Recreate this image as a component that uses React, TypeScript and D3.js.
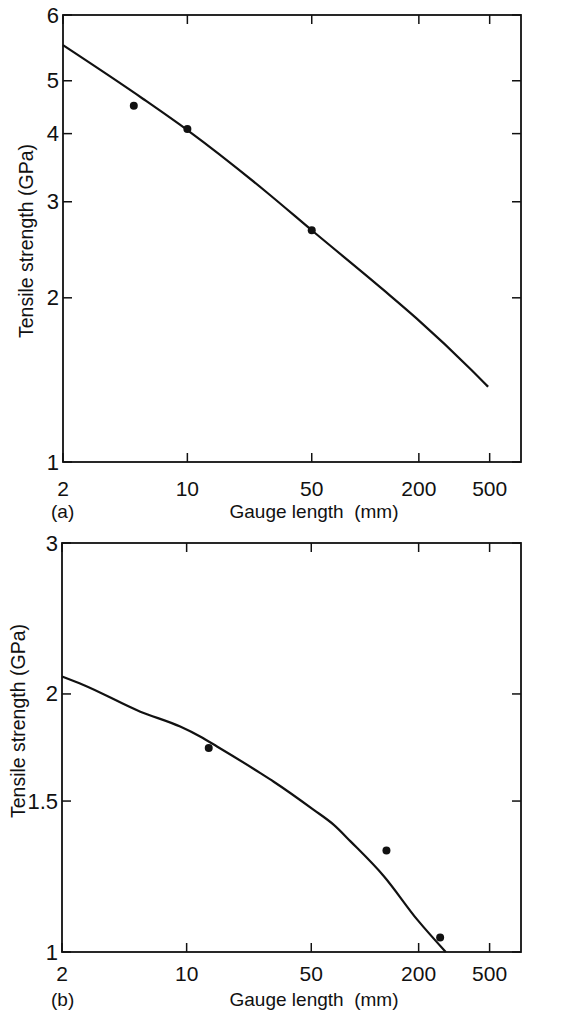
import * as d3 from "d3";

// x ticks shared by both panels
const xTicks = [2, 10, 50, 200, 500];
const xDomain = [2, 750];

// panel (a)
const yTickValuesA = [1, 2, 3, 4, 5, 6.6];
const yTickLabelsA = ["1", "2", "3", "4", "5", "6"];
const curveXA = [2, 5.65, 10, 28, 50, 126, 194, 395, 490];
const curveYA = [5.81, 4.63, 4.06, 3.12, 2.66, 2.07, 1.834, 1.475, 1.374];
const dotXA = [5, 10, 50];
const dotYA = [4.5, 4.08, 2.66];

// panel (b)
const yTickValuesB = [1, 1.5, 2, 3];
const yTickLabelsB = ["1", "1.5", "2", "3"];
const curveXB = [2, 2.64, 5.5, 9.2, 11.9, 14.8, 25.9, 30.8, 51.6, 66.9, 83, 128, 197, 284];
const curveYB = [2.096, 2.049, 1.907, 1.832, 1.784, 1.737, 1.617, 1.58, 1.465, 1.407, 1.346, 1.225, 1.09, 1.0];
const dotXB = [13.3, 132, 264];
const dotYB = [1.73, 1.313, 1.04];

const FONT = "'Liberation Sans', Arial, sans-serif";

type PanelProps = {
  left: number;
  right: number;
  top: number;
  bottom: number;
  yValues: number[];
  yLabels: string[];
  curveX: number[];
  curveY: number[];
  dotX: number[];
  dotY: number[];
  tag: string;
  yLabelX: number;
  yLabelY: number;
  xTickOffset: number;
  xLabelY: number;
};

const Panel = (p: PanelProps) => {
  const x = d3.scaleLog().domain(xDomain).range([p.left, p.right]);
  const y = d3
    .scaleLog()
    .domain([p.yValues[0], p.yValues[p.yValues.length - 1]])
    .range([p.bottom, p.top]);

  const pts = p.curveX.map((v, i) => [v, p.curveY[i]] as [number, number]);
  const line = d3
    .line<[number, number]>()
    .x((d) => x(d[0]))
    .y((d) => y(d[1]))
    .curve(d3.curveMonotoneX);

  const tl = 9;
  return (
    <g>
      <rect
        x={p.left}
        y={p.top}
        width={p.right - p.left}
        height={p.bottom - p.top}
        fill="none"
        stroke="#111"
        strokeWidth={1.8}
      />
      {xTicks.map((t) => (
        <g key={"x" + t}>
          <line x1={x(t)} x2={x(t)} y1={p.bottom} y2={p.bottom - tl} stroke="#111" strokeWidth={1.5} />
          <line x1={x(t)} x2={x(t)} y1={p.top} y2={p.top + tl} stroke="#111" strokeWidth={1.5} />
          <text x={x(t)} y={p.bottom + p.xTickOffset} textAnchor="middle" fontSize={21} fontFamily={FONT} fill="#111">
            {t}
          </text>
        </g>
      ))}
      {p.yValues.map((t, i) => (
        <g key={"y" + t}>
          <line x1={p.left} x2={p.left + tl} y1={y(t)} y2={y(t)} stroke="#111" strokeWidth={1.5} />
          <line x1={p.right} x2={p.right - tl} y1={y(t)} y2={y(t)} stroke="#111" strokeWidth={1.5} />
          <text
            x={p.left - 4}
            y={y(t)}
            textAnchor="end"
            dominantBaseline="central"
            fontSize={22}
            fontFamily={FONT}
            fill="#111"
          >
            {p.yLabels[i]}
          </text>
        </g>
      ))}
      <path d={line(pts) || ""} fill="none" stroke="#111" strokeWidth={2.2} />
      {p.dotX.map((v, i) => (
        <circle key={"d" + i} cx={x(v)} cy={y(p.dotY[i])} r={4} fill="#111" />
      ))}
      <text
        transform={`translate(${p.yLabelX},${p.yLabelY}) rotate(-90)`}
        textAnchor="middle"
        fontSize={19.5}
        fontFamily={FONT}
        fill="#111"
      >
        Tensile strength (GPa)
      </text>
      <text x={51} y={p.xLabelY} fontSize={19} fontFamily={FONT} fill="#111">
        {p.tag}
      </text>
      <text x={314} y={p.xLabelY} textAnchor="middle" fontSize={19} fontFamily={FONT} fill="#111" style={{ whiteSpace: "pre" }}>
        {"Gauge length  (mm)"}
      </text>
    </g>
  );
};

export default function App() {
  return (
    <svg
      width={578}
      height={1010}
      style={{ position: "absolute", left: 0, top: 0, background: "#fff" }}
    >
      <Panel
        left={63}
        right={521}
        top={15}
        bottom={462}
        yValues={yTickValuesA}
        yLabels={yTickLabelsA}
        curveX={curveXA}
        curveY={curveYA}
        dotX={dotXA}
        dotY={dotYA}
        tag="(a)"
        yLabelX={33}
        yLabelY={241}
        xTickOffset={34}
        xLabelY={518}
      />
      <Panel
        left={62}
        right={521}
        top={543}
        bottom={952}
        yValues={yTickValuesB}
        yLabels={yTickLabelsB}
        curveX={curveXB}
        curveY={curveYB}
        dotX={dotXB}
        dotY={dotYB}
        tag="(b)"
        yLabelX={25}
        yLabelY={721}
        xTickOffset={29}
        xLabelY={1006}
      />
    </svg>
  );
}
